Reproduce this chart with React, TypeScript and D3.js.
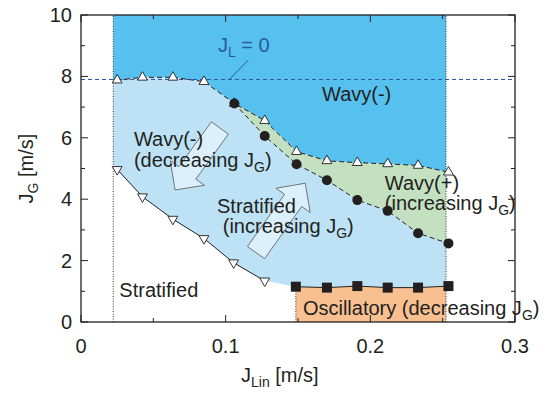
import React from "react";
import * as d3 from "d3";

// ---- data ----
const upperX = [0.025, 0.0425, 0.0635, 0.085, 0.106, 0.127, 0.149, 0.17, 0.191, 0.212, 0.233, 0.254];
const upperY = [7.88, 7.97, 7.97, 7.83, 7.12, 6.56, 5.55, 5.25, 5.19, 5.15, 5.1, 4.88];
const circleX = [0.106, 0.127, 0.149, 0.17, 0.191, 0.212, 0.233, 0.254];
const circleY = [7.12, 6.06, 5.14, 4.62, 3.97, 3.62, 2.89, 2.56];
const lowerX = [0.025, 0.0425, 0.0635, 0.085, 0.1055, 0.127];
const lowerY = [4.97, 4.08, 3.35, 2.72, 1.93, 1.34];
const squareX = [0.1485, 0.17, 0.191, 0.212, 0.233, 0.254];
const squareY = [1.15, 1.12, 1.17, 1.12, 1.12, 1.17];
const jL0 = 7.9;
const boundLeft = 0.0223;
const boundRight = 0.2523;
const xTicksMajor = [0, 0.1, 0.2, 0.3];
const xTickLabels = ["0", "0.1", "0.2", "0.3"];
const xTicksMinor = [0.05, 0.15, 0.25];
const yTicksMajor = [0, 2, 4, 6, 8, 10];
const yTickLabels = ["0", "2", "4", "6", "8", "10"];
const yTicksMinor = [1, 3, 5, 7, 9];
// arrows: [tailX, tailY, tipX, tipY]
const arrows = [
  [0.096, 6.32, 0.065, 4.3],
  [0.121, 2.26, 0.155, 4.52],
];

const W = 551, H = 396;
const FONT = "'Liberation Sans', Arial, Helvetica, sans-serif";
const TXT = "#231f20";

export default function App() {
  const x = d3.scaleLinear().domain([0, 0.3]).range([81, 515]);
  const y = d3.scaleLinear().domain([0, 10]).range([322, 15]);
  const zip = (xs: number[], ys: number[]) => xs.map((v, i) => [v, ys[i]] as [number, number]);
  const upper = zip(upperX, upperY);
  const circ = zip(circleX, circleY);
  const lower = zip(lowerX, lowerY);
  const sq = zip(squareX, squareY);

  const line = d3.line<[number, number]>().x(d => x(d[0])).y(d => y(d[1]));
  const poly = (pts: [number, number][]) => line(pts) + "Z";

  const darkPts: [number, number][] = [
    [0, 10], [0.3, 10], [0.3, upperY[upperY.length - 1]],
    ...[...upper].reverse(), [0, upperY[0]],
  ];
  const upperFromCirc = upper.filter(d => d[0] >= circleX[0] - 1e-6);
  const greenPts: [number, number][] = [
    ...upperFromCirc, [0.3, upperY[upperY.length - 1]], [0.3, circleY[circleY.length - 1]],
    ...[...circ].reverse(),
  ];
  const upperBeforeCirc = upper.filter(d => d[0] < circleX[0] - 1e-6);
  const lightPts: [number, number][] = [
    [0, upperY[0]], ...upperBeforeCirc, ...circ,
    [0.3, circleY[circleY.length - 1]], [0.3, squareY[squareY.length - 1]],
    ...[...sq].reverse(), ...[...lower].reverse(), [0, lowerY[0]],
  ];
  const orangePts: [number, number][] = [
    [squareX[0], 0], ...sq, [0.3, squareY[squareY.length - 1]], [0.3, 0],
  ];

  const tri = d3.symbol().type(d3.symbolTriangle).size(42)()!;
  const sqSym = d3.symbol().type(d3.symbolSquare).size(100)()!;

  const arrowPath = (a: number[]) => {
    const x0 = x(a[0]), y0 = y(a[1]), x1 = x(a[2]), y1 = y(a[3]);
    const dx = x1 - x0, dy = y1 - y0;
    const L = Math.hypot(dx, dy);
    const ux = dx / L, uy = dy / L, px = -uy, py = ux;
    const sw = 10.5, hw = 21, hl = 21;
    const bx = x1 - ux * hl, by = y1 - uy * hl;
    const pts = [
      [x0 + px * sw, y0 + py * sw],
      [bx + px * sw, by + py * sw],
      [bx + px * hw, by + py * hw],
      [x1, y1],
      [bx - px * hw, by - py * hw],
      [bx - px * sw, by - py * sw],
      [x0 - px * sw, y0 - py * sw],
    ];
    return "M" + pts.map(p => p.join(",")).join("L") + "Z";
  };

  const sub = (main: string, s: string, tail: string) => (
    <>
      {main}
      <tspan fontSize={14} dy={5}>{s}</tspan>
      <tspan dy={-5}>{tail}</tspan>
    </>
  );

  const labels: { x: number; y: number; content: React.ReactNode; color?: string }[] = [
    { x: 0.1666, y: 7.2, content: "Wavy(-)" },
    { x: 0.0366, y: 5.73, content: "Wavy(-)" },
    { x: 0.0366, y: 5.05, content: sub("(decreasing J", "G", ")") },
    { x: 0.094, y: 3.55, content: "Stratified" },
    { x: 0.098, y: 2.9, content: sub("(increasing J", "G", ")") },
    { x: 0.21, y: 4.3, content: "Wavy(+)" },
    { x: 0.21, y: 3.65, content: sub("(increasing J", "G", ")") },
    { x: 0.0265, y: 0.81, content: "Stratified" },
    { x: 0.1534, y: 0.23, content: sub("Oscillatory (decreasing J", "G", ")") },
  ];

  return (
    <svg width={W} height={H} style={{ position: "absolute", left: 0, top: 0, background: "#fff" }}
      fontFamily={FONT}>
      <defs>
        <clipPath id="band">
          <rect x={x(boundLeft)} y={y(10)} width={x(boundRight) - x(boundLeft)} height={y(0) - y(10)} />
        </clipPath>
      </defs>
      <g clipPath="url(#band)">
        <path d={poly(darkPts)} fill="#56c1ee" />
        <path d={poly(greenPts)} fill="#c3e1c1" />
        <path d={poly(lightPts)} fill="#bde2f6" />
        <path d={poly(orangePts)} fill="#f8bf90" />
      </g>
      {/* dotted boundaries */}
      {[boundLeft, boundRight].map((b, i) => (
        <line key={i} x1={x(b)} x2={x(b)} y1={y(0)} y2={y(10)} stroke="#231f20" strokeWidth={0.9} strokeDasharray="1,1.5" />
      ))}
      <line x1={x(squareX[0])} x2={x(squareX[0])} y1={y(0)} y2={y(squareY[0])} stroke="#231f20" strokeWidth={0.9} strokeDasharray="1,1.5" />
      {/* J_L = 0 line */}
      <line x1={x(0)} x2={x(0.3)} y1={y(jL0)} y2={y(jL0)} stroke="#2f55a4" strokeWidth={1} strokeDasharray="4,3" />
      <line x1={x(0.1156)} y1={y(8.53)} x2={x(0.1025)} y2={y(jL0)} stroke="#2f55a4" strokeWidth={1} />
      <text x={x(0.0947)} y={y(8.79)} fontSize={20} fill="#2a58a8">
        J<tspan fontSize={14} dy={5}>L</tspan><tspan dy={-5}> = 0</tspan>
      </text>
      {/* arrows */}
      {arrows.map((a, i) => (
        <path key={i} d={arrowPath(a)} fill="#dcf0fc" stroke="#6f7578" strokeWidth={1} />
      ))}
      {/* boundary lines */}
      <path d={line(upper)!} fill="none" stroke="#231f20" strokeWidth={1} strokeDasharray="5,3" />
      <path d={line(circ)!} fill="none" stroke="#231f20" strokeWidth={1} strokeDasharray="5,3" />
      <path d={line(lower)!} fill="none" stroke="#231f20" strokeWidth={1} />
      <path d={line(sq)!} fill="none" stroke="#231f20" strokeWidth={1} />
      {/* markers */}
      {upper.map((d, i) => (
        <path key={"u" + i} d={tri} transform={`translate(${x(d[0])},${y(d[1])})`} fill="#fff" stroke="#231f20" strokeWidth={0.9} />
      ))}
      {lower.map((d, i) => (
        <path key={"l" + i} d={tri} transform={`translate(${x(d[0])},${y(d[1])}) rotate(180)`} fill="#fff" stroke="#231f20" strokeWidth={0.9} />
      ))}
      {circ.map((d, i) => (
        <circle key={"c" + i} cx={x(d[0])} cy={y(d[1])} r={5} fill="#231f20" />
      ))}
      {sq.map((d, i) => (
        <path key={"s" + i} d={sqSym} transform={`translate(${x(d[0])},${y(d[1])})`} fill="#231f20" />
      ))}
      {/* labels */}
      {labels.map((l, i) => (
        <text key={i} x={x(l.x)} y={y(l.y)} fontSize={20} fill={TXT}>{l.content}</text>
      ))}
      {/* frame */}
      <rect x={x(0)} y={y(10)} width={x(0.3) - x(0)} height={y(0) - y(10)} fill="none" stroke="#231f20" strokeWidth={1.3} />
      {/* ticks */}
      {xTicksMajor.map((t, i) => (
        <g key={"xM" + i}>
          <line x1={x(t)} x2={x(t)} y1={y(0)} y2={y(0) - 7} stroke={TXT} />
          <line x1={x(t)} x2={x(t)} y1={y(10)} y2={y(10) + 7} stroke={TXT} />
          <text x={x(t)} y={353} fontSize={20} textAnchor="middle" fill={TXT}>{xTickLabels[i]}</text>
        </g>
      ))}
      {xTicksMinor.map((t, i) => (
        <g key={"xm" + i}>
          <line x1={x(t)} x2={x(t)} y1={y(0)} y2={y(0) - 4} stroke={TXT} />
          <line x1={x(t)} x2={x(t)} y1={y(10)} y2={y(10) + 4} stroke={TXT} />
        </g>
      ))}
      {yTicksMajor.map((t, i) => (
        <g key={"yM" + i}>
          <line x1={x(0)} x2={x(0) + 7} y1={y(t)} y2={y(t)} stroke={TXT} />
          <line x1={x(0.3)} x2={x(0.3) - 7} y1={y(t)} y2={y(t)} stroke={TXT} />
          <text x={72} y={y(t) + 7} fontSize={20} textAnchor="end" fill={TXT}>{yTickLabels[i]}</text>
        </g>
      ))}
      {yTicksMinor.map((t, i) => (
        <g key={"ym" + i}>
          <line x1={x(0)} x2={x(0) + 4} y1={y(t)} y2={y(t)} stroke={TXT} />
          <line x1={x(0.3)} x2={x(0.3) - 4} y1={y(t)} y2={y(t)} stroke={TXT} />
        </g>
      ))}
      {/* axis titles */}
      <text x={241} y={382} fontSize={20} fill={TXT}>
        J<tspan fontSize={14} dy={5}>Lin</tspan><tspan dy={-5}> [m/s]</tspan>
      </text>
      <text transform={`translate(33,${(y(0) + y(10)) / 2}) rotate(-90)`} fontSize={20} textAnchor="middle" fill={TXT}>
        J<tspan fontSize={14} dy={5}>G</tspan><tspan dy={-5}> [m/s]</tspan>
      </text>
    </svg>
  );
}
